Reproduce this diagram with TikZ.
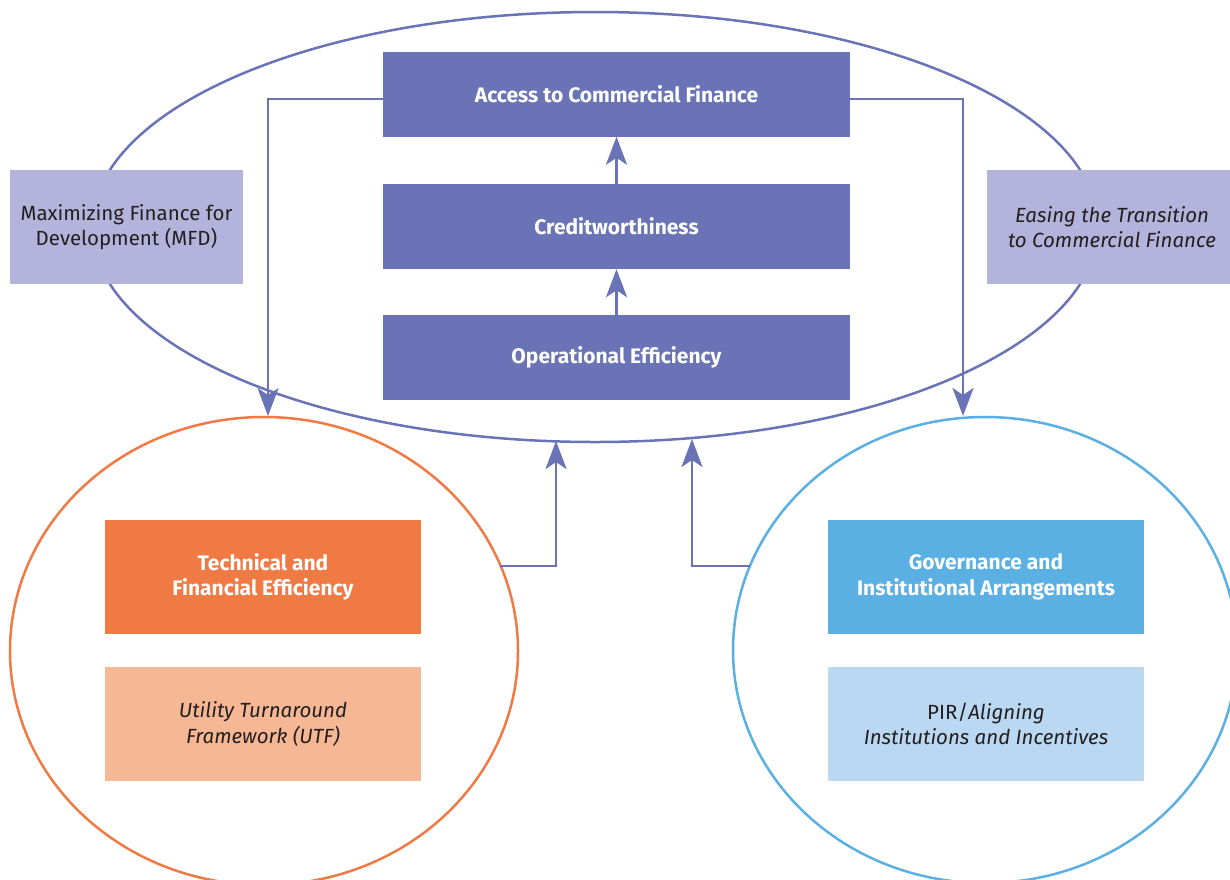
\documentclass[tikz,border=0pt]{standalone}
\usepackage{fontspec}
\setmainfont{Fira Sans}
\usetikzlibrary{arrows.meta,shapes.geometric}
\definecolor{navy}{HTML}{6A73B6}
\definecolor{lav}{HTML}{B3B3DB}
\definecolor{orng}{HTML}{F07A44}
\definecolor{peach}{HTML}{F6B794}
\definecolor{sky}{HTML}{5AAFE3}
\definecolor{pale}{HTML}{BAD8F1}
\definecolor{ink}{HTML}{231F20}
\begin{document}
\begin{tikzpicture}[x=1pt,y=-1pt,
  box/.style={inner sep=0pt, align=center, font=\fontsize{20.5}{25.5}\selectfont},
  boldtext/.style={font=\bfseries\fontsize{21}{25.5}\selectfont},
  darkbox/.style={box, boldtext, fill=navy, text=white,
    minimum width=467pt, minimum height=85pt},
  sidebox/.style={box, fill=lav, text=ink, minimum width=233pt, minimum height=114pt},
  lowbox/.style={box, minimum width=316pt, minimum height=114pt},
  ring/.style={line width=2.5pt, ellipse, inner sep=0pt},
  link/.style={draw=navy, line width=2.8pt, -{Stealth[length=28pt,width=21pt,inset=7pt]}},
]
\useasboundingbox (0,0) rectangle (1230,879);

% outer ellipse and the two pillars
\node[ring, draw=navy, minimum width=1006pt, minimum height=430pt] (outer) at (595,227) {};
\node[ring, draw=orng, minimum width=508pt, minimum height=468pt] (techring) at (264,651) {};
\node[ring, draw=sky, minimum width=504pt, minimum height=466pt] (govring) at (985,650) {};

% central chain
\node[darkbox] (access) at (616.5,94) {Access to Commercial Finance};
\node[darkbox] (credit) at (616.5,226.5) {Creditworthiness};
\node[darkbox] (ops) at (616.5,357.5) {Operational Efficiency};

% side labels
\node[sidebox] (mfd) at (126.5,227) {Maximizing Finance for\\Development (MFD)};
\node[sidebox, minimum width=250pt] (easing) at (1112,227) {\itshape Easing the Transition\\\itshape to Commercial Finance};

% lower boxes
\node[lowbox, boldtext, fill=orng, text=white] (tech) at (263,577) {Technical and\\Financial Efficiency};
\node[lowbox, fill=peach, text=ink] (utf) at (263,724) {\itshape Utility Turnaround\\\itshape Framework (UTF)};
\node[lowbox, boldtext, fill=sky, text=white] (gov) at (986,577) {Governance and\\Institutional Arrangements};
\node[lowbox, fill=pale, text=ink] (pir) at (986,724) {PIR/\textit{Aligning}\\\itshape Institutions and Incentives};

% end points on the curved outlines
\coordinate (techtop) at (268,416);
\coordinate (govtop) at (963,416);
\coordinate (techout) at (500,566);
\coordinate (govout) at (750,566);
\coordinate (ringL) at (556,441);
\coordinate (ringR) at (692,439);

% connectors
\draw[link] (ops) -- (credit);
\draw[link] (credit) -- (access);
\draw[link] (access.west |- 0,99) -| (techtop);
\draw[link] (access.east |- 0,99) -| (govtop);
\draw[link] (techout) -| (ringL);
\draw[link] (govout) -| (ringR);
\end{tikzpicture}
\end{document}
